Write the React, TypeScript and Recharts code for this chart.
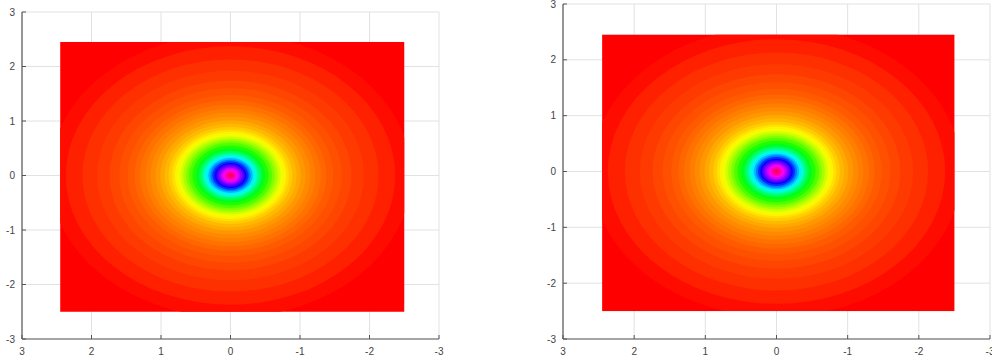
import React from 'react';
import { ComposedChart, XAxis, YAxis, CartesianGrid, ReferenceArea } from 'recharts';

// Axis ticks (both axes run -3..3; x axis is drawn reversed)
const xTicks = [-3, -2, -1, 0, 1, 2, 3];
const yTicks = [-3, -2, -1, 0, 1, 2, 3];

// Extent of the sampled data field
const fieldXMin = -2.5;
const fieldXMax = 2.45;
const fieldYMin = -2.5;
const fieldYMax = 2.45;
const fieldColor = '#ff0000';

// Filled contour levels: outer radius of each band (data units) and its colour
const levelRadii = [
  2.6, 2.37, 2.13, 1.92, 1.74, 1.6, 1.48, 1.38, 1.3, 1.22, 1.15, 1.08, 1.01,
  0.95, 0.89, 0.84, 0.8, 0.76, 0.72, 0.68, 0.64, 0.6, 0.55, 0.5, 0.45, 0.41,
  0.38, 0.35, 0.32, 0.29, 0.26, 0.23, 0.2, 0.17, 0.14, 0.11, 0.08, 0.05, 0.03,
];
const levelColors = [
  '#ff0c00', '#ff2000', '#ff3000', '#ff3a00', '#ff4600', '#ff5000', '#ff5a00',
  '#ff6600', '#ff7200', '#ff7e00', '#ff8a00', '#ff9800', '#ffa800', '#ffb800',
  '#ffcc00', '#ffe000', '#fff400', '#f0ff00', '#d0ff00', '#a8ff00', '#80ff00',
  '#50ff00', '#20ff00', '#00ff20', '#00ff60', '#00ffa0', '#00ffd8', '#00f0ff',
  '#00b8ff', '#0078ff', '#0030ff', '#1000ff', '#5000ff', '#9000ff', '#d000ff',
  '#ff00f0', '#ff00b0', '#ff0080', '#ff0060',
];

const FONT = '"Liberation Sans", Arial, sans-serif';

const XTick = (props: any) => {
  const { x, y, payload } = props;
  return (
    <g>
      <line x1={x} y1={y} x2={x} y2={y - 4} stroke="#555" strokeWidth={1} />
      <text x={x} y={y + 16} textAnchor="middle" fontSize={10} fill="#444" fontFamily={FONT}>
        {payload.value}
      </text>
    </g>
  );
};

const YTick = (props: any) => {
  const { x, y, payload } = props;
  return (
    <g>
      <line x1={x} y1={y} x2={x + 4} y2={y} stroke="#555" strokeWidth={1} />
      <text x={x - 7} y={y + 3.5} textAnchor="end" fontSize={10} fill="#444" fontFamily={FONT}>
        {payload.value}
      </text>
    </g>
  );
};

const makeFieldShape = (clipId: string) => (props: any) => {
  const { x, y, width, height, fill } = props;
  const rx = Math.min(x, x + width);
  const ry = Math.min(y, y + height);
  const w = Math.abs(width);
  const h = Math.abs(height);
  return (
    <g>
      <defs>
        <clipPath id={clipId}>
          <rect x={rx} y={ry} width={w} height={h} />
        </clipPath>
      </defs>
      <rect x={rx} y={ry} width={w} height={h} fill={fill} />
    </g>
  );
};

const makeEllipseShape = (clipId: string) => (props: any) => {
  const { x, y, width, height, fill } = props;
  return (
    <ellipse
      cx={x + width / 2}
      cy={y + height / 2}
      rx={Math.abs(width) / 2}
      ry={Math.abs(height) / 2}
      fill={fill}
      stroke="none"
      clipPath={`url(#${clipId})`}
    />
  );
};

type PanelProps = {
  id: string;
  left: number;
  width: number;
  margin: { top: number; right: number; left: number; bottom: number };
  yAxisWidth: number;
};

const Panel = ({ id, left, width, margin, yAxisWidth }: PanelProps) => {
  const clipId = `field-clip-${id}`;
  const fieldShape = makeFieldShape(clipId);
  const ellipseShape = makeEllipseShape(clipId);
  return (
    <div style={{ position: 'absolute', left, top: 0, width, height: 362 }}>
      <ComposedChart width={width} height={362} margin={margin} data={[]}>
        <CartesianGrid stroke="#e2e2e2" strokeWidth={1} />
        <XAxis
          type="number"
          dataKey="x"
          domain={[-3, 3]}
          ticks={xTicks}
          reversed
          allowDataOverflow
          height={23}
          tickSize={0}
          tickMargin={0}
          tickLine={false}
          axisLine={{ stroke: '#5a5a5a', strokeWidth: 1.2 }}
          tick={<XTick />}
          interval={0}
        />
        <YAxis
          type="number"
          dataKey="y"
          domain={[-3, 3]}
          ticks={yTicks}
          allowDataOverflow
          width={yAxisWidth}
          tickSize={0}
          tickMargin={0}
          tickLine={false}
          axisLine={{ stroke: '#5a5a5a', strokeWidth: 1.2 }}
          tick={<YTick />}
          interval={0}
        />
        <ReferenceArea
          x1={fieldXMin}
          x2={fieldXMax}
          y1={fieldYMin}
          y2={fieldYMax}
          fill={fieldColor}
          fillOpacity={1}
          stroke="none"
          ifOverflow="visible"
          shape={fieldShape}
        />
        {levelRadii.map((r, i) => (
          <ReferenceArea
            key={`lvl-${i}`}
            x1={-r}
            x2={r}
            y1={-r}
            y2={r}
            fill={levelColors[i]}
            fillOpacity={1}
            stroke="none"
            ifOverflow="visible"
            shape={ellipseShape}
          />
        ))}
      </ComposedChart>
    </div>
  );
};

export default function App() {
  return (
    <div
      style={{
        position: 'absolute',
        left: 0,
        top: 0,
        width: 992,
        height: 362,
        background: '#fff',
        overflow: 'hidden',
      }}
    >
      <Panel id="a" left={0} width={450} margin={{ top: 12, right: 11, left: 0, bottom: 0 }} yAxisWidth={22} />
      <Panel id="b" left={540} width={452} margin={{ top: 4, right: 2, left: 0, bottom: 0 }} yAxisWidth={23} />
    </div>
  );
}
